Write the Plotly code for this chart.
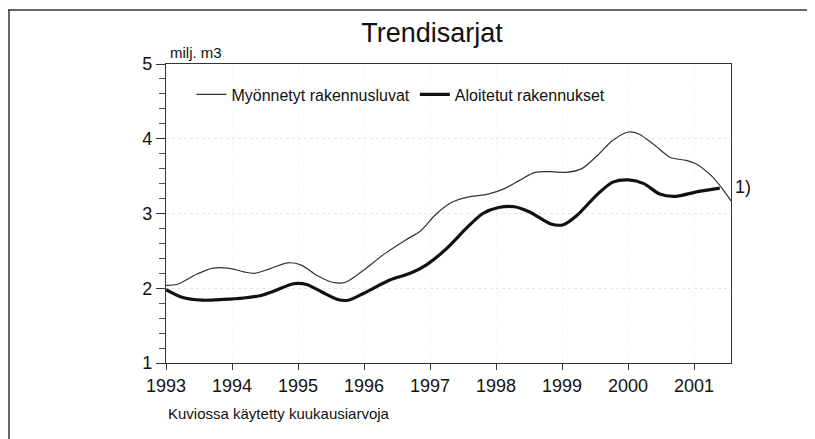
import plotly.graph_objects as go

# Myönnetyt rakennusluvat (thin line), decimal years and milj. m3
permits_x = [1993.00, 1993.16, 1993.47, 1993.71, 1993.94, 1994.18, 1994.34, 1994.57,
             1994.85, 1995.05, 1995.29, 1995.52, 1995.72, 1995.99, 1996.31, 1996.62,
             1996.86, 1997.09, 1997.33, 1997.57, 1997.88, 1998.12, 1998.35, 1998.59,
             1998.83, 1999.06, 1999.30, 1999.54, 1999.77, 2000.01, 2000.17, 2000.41,
             2000.64, 2000.88, 2001.04, 2001.28, 2001.43, 2001.56]
permits_y = [2.04, 2.05, 2.19, 2.27, 2.27, 2.22, 2.20, 2.26,
             2.34, 2.31, 2.17, 2.08, 2.08, 2.24, 2.46, 2.64,
             2.77, 2.99, 3.15, 3.22, 3.26, 3.33, 3.44, 3.55,
             3.56, 3.55, 3.60, 3.78, 3.98, 4.09, 4.06, 3.91,
             3.75, 3.71, 3.66, 3.49, 3.33, 3.17]

# Aloitetut rakennukset (thick line)
starts_x = [1993.00, 1993.24, 1993.55, 1993.87, 1994.18, 1994.42, 1994.66, 1994.93,
            1995.13, 1995.36, 1995.60, 1995.76, 1995.99, 1996.39, 1996.70, 1996.94,
            1997.25, 1997.57, 1997.80, 1998.04, 1998.28, 1998.51, 1998.83, 1999.02,
            1999.22, 1999.54, 1999.77, 2000.01, 2000.24, 2000.48, 2000.72, 2001.04,
            2001.39]
starts_y = [1.98, 1.88, 1.84, 1.85, 1.87, 1.90, 1.97, 2.06,
            2.05, 1.95, 1.85, 1.84, 1.93, 2.11, 2.20, 2.31,
            2.53, 2.82, 3.00, 3.08, 3.09, 3.02, 2.86, 2.85,
            2.97, 3.26, 3.42, 3.45, 3.40, 3.26, 3.23, 3.29,
            3.34]

year_ticks = [1993, 1994, 1995, 1996, 1997, 1998, 1999, 2000, 2001]
value_ticks = [1, 2, 3, 4, 5]

FONT = "Liberation Sans Narrow, Liberation Sans, Arial, sans-serif"

# page body has an 8px margin; figure sized so that it fits the 815x439 window
W, H = 807, 431
ML, MR, MT, MB = 158, 84, 56, 76
PW, PH = W - ML - MR, H - MT - MB

fig = go.Figure()
fig.add_trace(go.Scatter(
    x=permits_x, y=permits_y, mode="lines", name="Myönnetyt rakennusluvat",
    line=dict(color="#333333", width=1.2, shape="spline", smoothing=0.8)))
fig.add_trace(go.Scatter(
    x=starts_x, y=starts_y, mode="lines", name="Aloitetut rakennukset",
    line=dict(color="#111111", width=3.2, shape="spline", smoothing=0.8)))

fig.update_layout(
    width=W, height=H, autosize=False,
    margin=dict(l=ML, r=MR, t=MT, b=MB, pad=0),
    paper_bgcolor="white", plot_bgcolor="white",
    font=dict(family=FONT, color="#111111", size=16),
    title=dict(text="Trendisarjat", x=(432 - 8) / W, xanchor="center",
               y=1 - 15 / H, yanchor="top",
               font=dict(family=FONT, size=27, color="#111111")),
    showlegend=True,
    legend=dict(orientation="h", x=0.045, y=0.955, xanchor="left", yanchor="top",
                bgcolor="rgba(0,0,0,0)", font=dict(family=FONT, size=16),
                itemwidth=30, tracegroupgap=0),
    xaxis=dict(range=[1993, 2001.56], tickmode="array", tickvals=year_ticks,
               ticktext=[str(t) for t in year_ticks],
               showgrid=True, gridcolor="#f4f4f4", griddash="dot",
               showline=True, linecolor="#333333", linewidth=1.3, mirror=True,
               ticks="outside", ticklen=6, tickcolor="#333333",
               tickfont=dict(family=FONT, size=18), zeroline=False),
    yaxis=dict(range=[1, 5], tickmode="array", tickvals=value_ticks,
               showgrid=True, gridcolor="#e6e6e6", griddash="dot",
               showline=True, linecolor="#333333", linewidth=1.3, mirror=True,
               ticks="outside", ticklen=9, tickcolor="#333333",
               minor=dict(dtick=0.2, ticks="outside", ticklen=6, tickcolor="#555555",
                          showgrid=False),
               tickfont=dict(family=FONT, size=18), zeroline=False),
    annotations=[
        dict(text="milj. m3", xref="paper", yref="paper", x=0.003, y=1.005,
             xanchor="left", yanchor="bottom", showarrow=False,
             font=dict(family=FONT, size=15)),
        dict(text="Kuviossa käytetty kuukausiarvoja", xref="paper", yref="paper",
             x=0.0, y=-0.135, xanchor="left", yanchor="top", showarrow=False,
             font=dict(family=FONT, size=15)),
        dict(text="1)", x=permits_x[-1], y=starts_y[-1] + 0.02, xref="x", yref="y",
             xanchor="left", yanchor="middle", xshift=2, showarrow=False,
             font=dict(family=FONT, size=18)),
    ],
    shapes=[
        dict(type="line", xref="paper", yref="paper",
             x0=-ML / PW, x1=(W - ML) / PW, y0=(H - 2 - MB) / PH, y1=(H - 2 - MB) / PH,
             line=dict(color="#333333", width=1.5)),
        dict(type="line", xref="paper", yref="paper",
             x0=-(ML - 1) / PW, x1=-(ML - 1) / PW, y0=(H - 2 - MB) / PH, y1=-MB / PH,
             line=dict(color="#333333", width=1.5)),
    ],
)

fig.write_html("out.html")
